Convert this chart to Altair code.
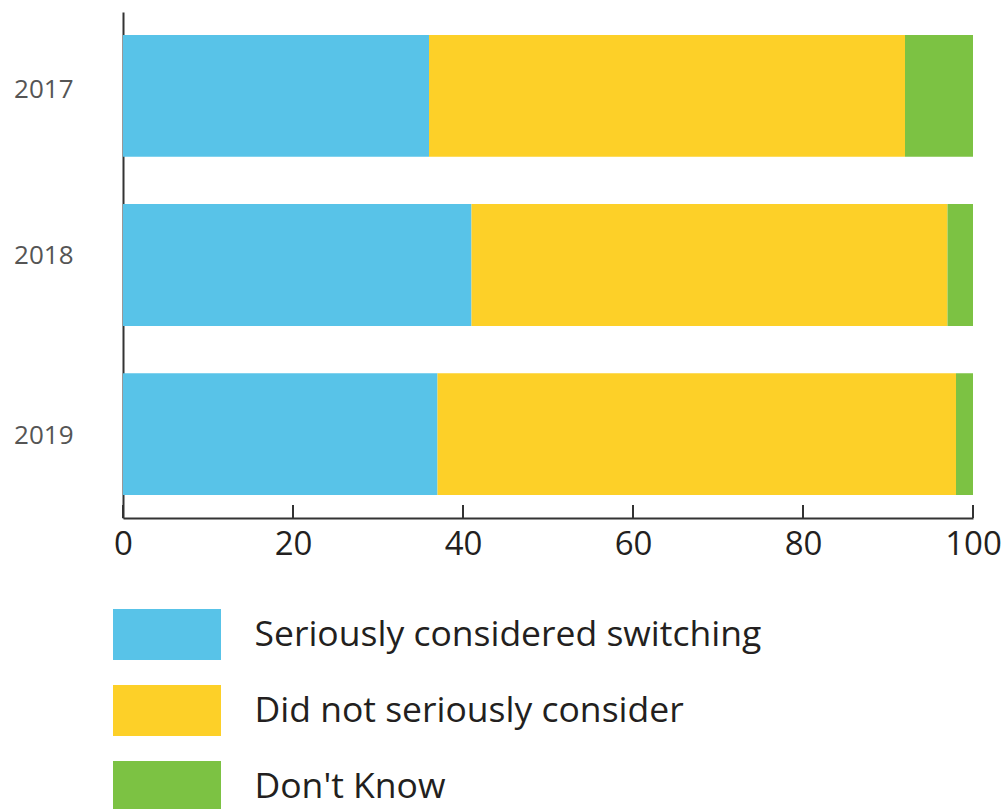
import altair as alt
import pandas as pd

years = ["2017", "2018", "2019"]
categories = ["Seriously considered switching", "Did not seriously consider", "Don't Know"]
considered = [36, 41, 37]
not_considered = [56, 56, 61]
dont_know = [8, 3, 2]
colors = ["#58C3E8", "#FDD028", "#7CC243"]
x_ticks = [0, 20, 40, 60, 80, 100]

rows = []
for i, y in enumerate(years):
    for k, (cat, vals) in enumerate(zip(categories, [considered, not_considered, dont_know])):
        rows.append({"year": y, "category": cat, "value": vals[i], "order": k})
df = pd.DataFrame(rows)
ticks_df = pd.DataFrame({"t": x_ticks})

W, H = 850, 506

legend_shape = "M-2.1176,-1L2.1176,-1L2.1176,1L-2.1176,1Z"

bars = alt.Chart(df).mark_bar(cornerRadius=0, strokeWidth=0).encode(
    y=alt.Y("year:N", sort=years,
            scale=alt.Scale(paddingInner=0.28, paddingOuter=0.136),
            axis=alt.Axis(title=None, ticks=False, domain=True, domainColor="#333333",
                          domainWidth=2, labelFontSize=26, labelColor="#555555",
                          labelFont="Open Sans", labelPadding=50,
                          labelOffset={"condition": [
                              {"test": "datum.value === '2017'", "value": -6},
                              {"test": "datum.value === '2018'", "value": -9}],
                              "value": 2})),
    x=alt.X("value:Q", stack="zero",
            scale=alt.Scale(domain=[0, 100], nice=False),
            axis=alt.Axis(title=None, values=x_ticks, ticks=False, domainColor="#333333",
                          domainWidth=2, labelFontSize=33, labelColor="#231F20",
                          labelFont="Open Sans", labelPadding=10, grid=False,
                          labelFlush=False)),
    color=alt.Color("category:N",
                    scale=alt.Scale(domain=categories, range=colors),
                    legend=alt.Legend(title=None, orient="none", legendX=18.5, legendY=597,
                                      symbolType=legend_shape, symbolSize=2601,
                                      symbolStrokeWidth=0, symbolOpacity=1,
                                      labelFontSize=35.5, labelFont="Open Sans",
                                      labelColor="#231F20", labelOffset=62,
                                      labelLimit=1000, rowPadding=25, padding=0,
                                      direction="vertical")),
    order=alt.Order("order:Q"),
)

tick_marks = alt.Chart(ticks_df).mark_rule(color="#333333", strokeWidth=2).encode(
    x=alt.X("t:Q"),
    y=alt.value(H - 13),
    y2=alt.value(H),
)

chart = alt.layer(bars, tick_marks).properties(
    width=W, height=H,
    padding={"left": 123, "top": 12, "right": 35, "bottom": 291},
    autosize=alt.AutoSizeParams(type="none"),
    background="white",
).configure_view(strokeWidth=0, stroke="transparent")

chart.save("out.html", embed_options={"renderer": "svg", "actions": False})
